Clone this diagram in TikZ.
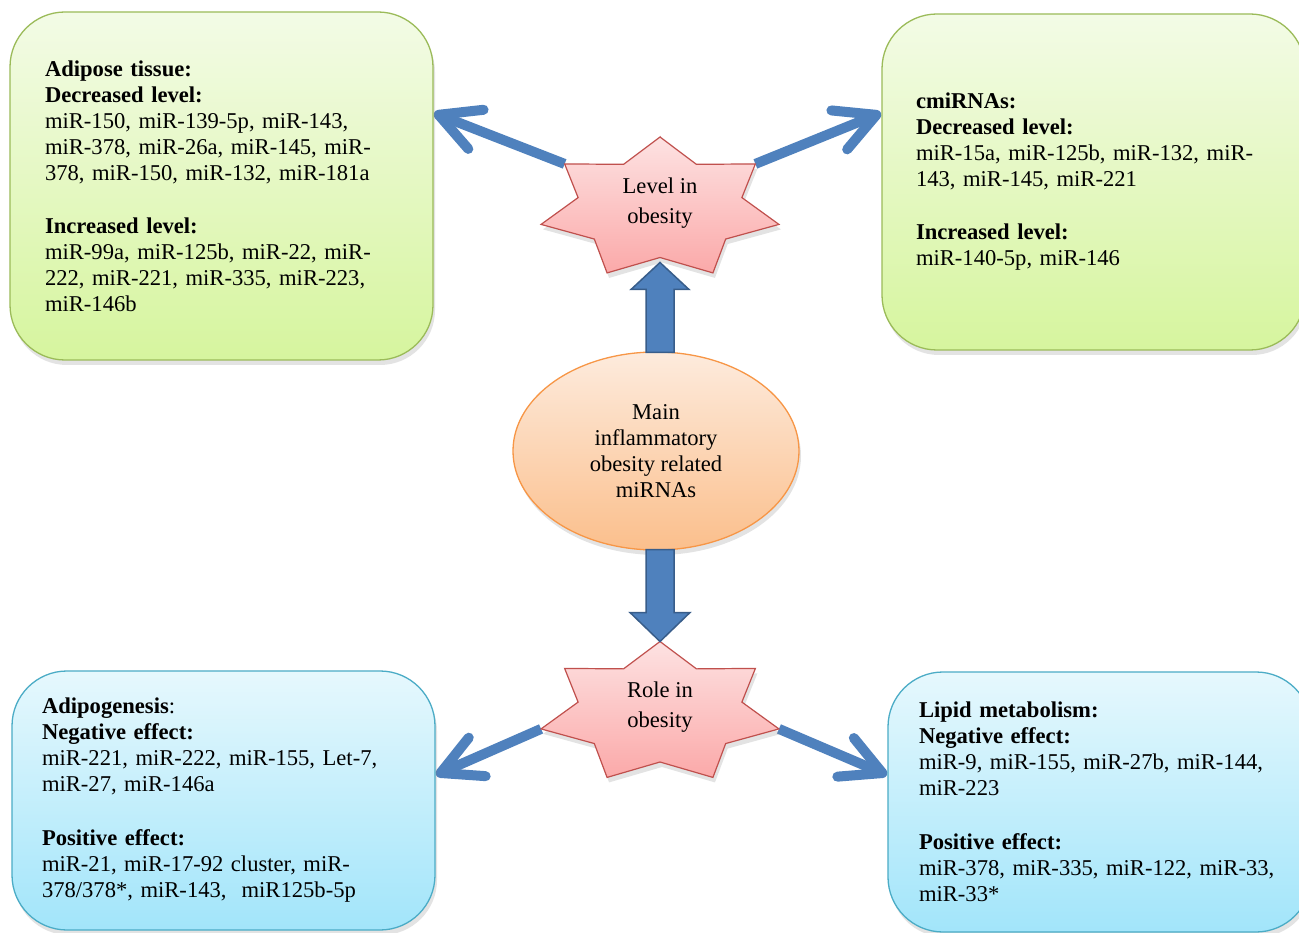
\documentclass[tikz,border=0pt]{standalone}
\usepackage{fontspec}
\setmainfont{Liberation Serif}
\usetikzlibrary{arrows.meta,shapes.geometric,shadows,calc}
\definecolor{arrowblue}{HTML}{4F81BD}
\definecolor{arrowedge}{HTML}{385D8A}
\definecolor{greentop}{HTML}{F3FBE6}
\definecolor{greenbot}{HTML}{D6F59E}
\definecolor{greenedge}{HTML}{9BBB59}
\definecolor{bluetop}{HTML}{E6F8FD}
\definecolor{bluebot}{HTML}{A2E5FA}
\definecolor{blueedge}{HTML}{4BACC6}
\definecolor{startop}{HTML}{FDE2E2}
\definecolor{starbot}{HTML}{FBA9A9}
\definecolor{staredge}{HTML}{C0504D}
\definecolor{elltop}{HTML}{FDEBDD}
\definecolor{ellbot}{HTML}{FBBF8C}
\definecolor{elledge}{HTML}{F79646}
\tikzset{
  txt/.style={font=\fontsize{22.6pt}{26pt}\selectfont},
  softshadow/.style={drop shadow={shadow xshift=2pt, shadow yshift=-5pt, opacity=0.22}},
  infobox/.style={draw, line width=1.3pt, rounded corners=55pt, minimum width=423pt,
    align=left, inner sep=0pt, txt, softshadow},
  greenbox/.style={infobox, draw=greenedge, top color=greentop, bottom color=greenbot},
  bluebox/.style={infobox, draw=blueedge, top color=bluetop, bottom color=bluebot},
  starpoly/.style={draw=staredge, line width=1.2pt, top color=startop, bottom color=starbot, softshadow},
  startext/.style={align=center, font=\fontsize{22.6pt}{30pt}\selectfont, inner sep=0pt},
  link/.style={draw=arrowblue, line width=10pt, -{Straight Barb[length=40pt, width=42pt, round]}},
  blockarrow/.style={fill=arrowblue, draw=arrowedge, line width=1.5pt, line join=miter},
  mainell/.style={ellipse, draw=elledge, line width=1.3pt, top color=elltop, bottom color=ellbot,
    minimum width=286pt, minimum height=198pt, align=center, inner sep=0pt, txt, softshadow}
}
\newcommand\drawsevenstar[3]{%
  \begin{scope}[shift={(#2,#3)}]
    \path[starpoly] (90:122pt and 71.5pt)
      \foreach \k in {0,...,6}{ -- ({115.714+\k*51.4286}:84pt and 49pt)
                               -- ({141.4286+\k*51.4286}:122pt and 71.5pt)} -- cycle;
    \coordinate (#1-top) at (90:122pt and 71.5pt);
    \coordinate (#1-ul) at (141.4286:122pt and 71.5pt);
    \coordinate (#1-ur) at (38.5714:122pt and 71.5pt);
    \coordinate (#1-l) at (192.857:122pt and 71.5pt);
    \coordinate (#1-r) at (-12.857:122pt and 71.5pt);
    \coordinate (#1-notch) at (270:84pt and 49pt);
  \end{scope}}
\begin{document}
\begin{tikzpicture}[x=1pt, y=-1pt]
\useasboundingbox (0,0) rectangle (1299,933);
\fill[white] (0,0) rectangle (1299,933);
\clip (0,0) rectangle (1299,933);

% free ends of the connectors, on the box borders
\coordinate (tl-tip) at (434,113);
\coordinate (tr-tip) at (881,113);
\coordinate (bl-tip) at (436,775);
\coordinate (br-tip) at (887,775);

% star tip coordinates (for the links)
\begin{scope}[shift={(660,208.5)}]
  \coordinate (lvl-ul) at (141.4286:122pt and 71.5pt);
  \coordinate (lvl-ur) at (38.5714:122pt and 71.5pt);
\end{scope}
\begin{scope}[shift={(660,713)}]
  \coordinate (role-l) at (192.857:122pt and 71.5pt);
  \coordinate (role-r) at (-12.857:122pt and 71.5pt);
\end{scope}

\draw[link] (lvl-ul) -- (tl-tip);
\draw[link] (lvl-ur) -- (tr-tip);
\draw[link] (role-l) -- (bl-tip);
\draw[link] (role-r) -- (br-tip);

% boxes
\node[greenbox, minimum height=348pt, text width=353pt] (adipose) at (221.5,186) {%
\textbf{Adipose tissue:}\\
\textbf{Decreased level:}\\
miR-150, miR-139-5p, miR-143,\\
miR-378, miR-26a, miR-145, miR-\\
378, miR-150, miR-132, miR-181a\\[27pt]
\textbf{Increased level:}\\
miR-99a, miR-125b, miR-22, miR-\\
222, miR-221, miR-335, miR-223,\\
miR-146b};

\node[greenbox, minimum height=336pt, text width=355pt] (cmirna) at (1093.5,182) {%
\textbf{cmiRNAs:}\\
\textbf{Decreased level:}\\
miR-15a, miR-125b, miR-132, miR-\\
143, miR-145, miR-221\\[27pt]
\textbf{Increased level:}\\
miR-140-5p, miR-146\\[-4pt]};

\node[bluebox, minimum height=259pt, text width=363pt] (adipo) at (223.5,800.5) {%
\textbf{Adipogenesis}:\\
\textbf{Negative effect:}\\
miR-221, miR-222, miR-155, Let-7,\\
miR-27, miR-146a\\[28pt]
\textbf{Positive effect:}\\
miR-21, miR-17-92 cluster, miR-\\
378/378*, miR-143,~ miR125b-5p};

\node[bluebox, minimum height=260pt, text width=361pt] (lipid) at (1099.5,802) {%
\textbf{Lipid metabolism:}\\
\textbf{Negative effect:}\\
miR-9, miR-155, miR-27b, miR-144,\\
miR-223\\[28pt]
\textbf{Positive effect:}\\
miR-378, miR-335, miR-122, miR-33,\\
miR-33*};

% stars
\drawsevenstar{lvl}{660}{208.5}
\node[startext] (lvl) at (660,203) {Level in\\obesity};
\drawsevenstar{role}{660}{713}
\node[startext] (role) at (660,707) {Role in\\obesity};

% central ellipse
\node[mainell] (main) at (656,451) {Main\\inflammatory\\obesity related\\miRNAs};

% block arrows
\draw[blockarrow] let \p1=(main.north), \p2=(lvl-notch) in
  (\x2-14pt,\y1-1pt) -- (\x2-14pt,\y2-32pt) -- (\x2-29pt,\y2-32pt) -- (\x2,\y2-5pt)
  -- (\x2+29pt,\y2-32pt) -- (\x2+14pt,\y2-32pt) -- (\x2+14pt,\y1-1pt) -- cycle;
\draw[blockarrow] let \p1=(main.south), \p2=(role-top) in
  (\x2-14pt,\y1+1pt) -- (\x2-14pt,\y2+29pt) -- (\x2-30pt,\y2+29pt) -- (\x2,\y2)
  -- (\x2+30pt,\y2+29pt) -- (\x2+14pt,\y2+29pt) -- (\x2+14pt,\y1+1pt) -- cycle;
\end{tikzpicture}
\end{document}
